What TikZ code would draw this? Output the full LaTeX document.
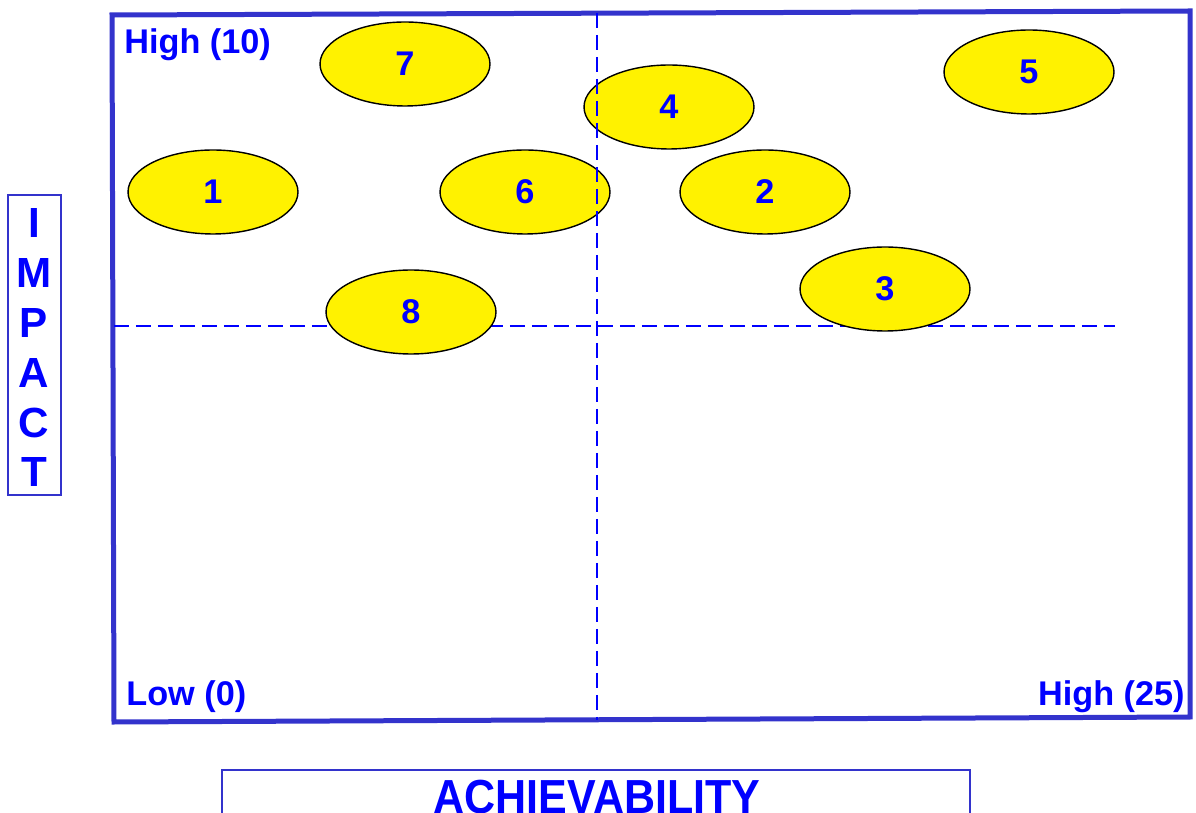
\documentclass[tikz,border=0pt]{standalone}
\usepackage{fontspec}
\setmainfont{Liberation Sans}
\usepackage{graphicx}
\usetikzlibrary{shapes.geometric,positioning}
\definecolor{framecol}{HTML}{3333CC}
\definecolor{textblue}{HTML}{0000FF}

\begin{document}
\begin{tikzpicture}[x=0.02cm, y=-0.02cm,
  idea/.style={ellipse, draw=black, line width=0.8pt, fill=yellow, minimum width=3.4cm, minimum height=1.68cm, inner sep=0pt, font=\fontsize{19.5}{20}\selectfont\bfseries, text=textblue},
  cornerlabel/.style={font=\fontsize{19.5}{20}\selectfont\bfseries, text=textblue, inner sep=0pt},
  axisletter/.style={font=\fontsize{24}{24}\selectfont\bfseries, text=textblue, inner sep=0pt, anchor=base},
  axisbox/.style={draw=framecol, line width=1.1pt, inner sep=0pt},
  divider/.style={textblue, line width=1.1pt, dash pattern=on 0.3cm off 0.14cm}]
  \useasboundingbox (0,0) rectangle (1196,813);

  % outer frame
  \coordinate (tl) at (112,15);
  \coordinate (tr) at (1190,11);
  \coordinate (br) at (1190,717);
  \coordinate (bl) at (114,722);
  \draw[framecol, line width=0.1cm, line join=miter] (tl) -- (tr) -- (br) -- (bl) -- cycle;

  % quadrant dividers
  \coordinate (hleft) at (114,326);
  \coordinate (hright) at (1115,326);
  \coordinate (vtop) at (597,13);
  \coordinate (vbot) at (597,720);
  \draw[divider] (hleft) -- (hright);

  % ideas
  \foreach \n/\x/\y in {1/213/192, 2/765/192, 3/885/289, 4/669/107, 5/1029/72, 6/525/192, 7/405/64, 8/411/312}
    \node[idea] (idea\n) at (\x,\y) {\n};

  \draw[divider] (vtop) -- (vbot);

  % corner labels
  \node[cornerlabel, anchor=base west] (highimpact) at (124,54) {High (10)};
  \node[cornerlabel, anchor=base west] (low) at (126,705) {Low (0)};
  \node[cornerlabel, anchor=base east] (highachieve) at (1185,705) {High (25)};

  % vertical axis title
  \node[axisbox, minimum width=1.06cm, minimum height=6cm] (impactbox) at (34.5,345) {};
  \foreach \l [count=\i] in {I,M,P,A,C,T}
    \node[axisletter] (impact\i) at (34,{238+49.8*(\i-1)}) {\l};

  % horizontal axis title
  \node[axisbox, anchor=north west, minimum width=14.96cm, minimum height=2cm] (achievebox) at (221,769) {};
  \node[axisletter, font=\fontsize{27.2}{28}\selectfont\bfseries] (achieve) at (597,813) {\scalebox{0.9}[1]{ACHIEVABILITY}};
\end{tikzpicture}
\end{document}
